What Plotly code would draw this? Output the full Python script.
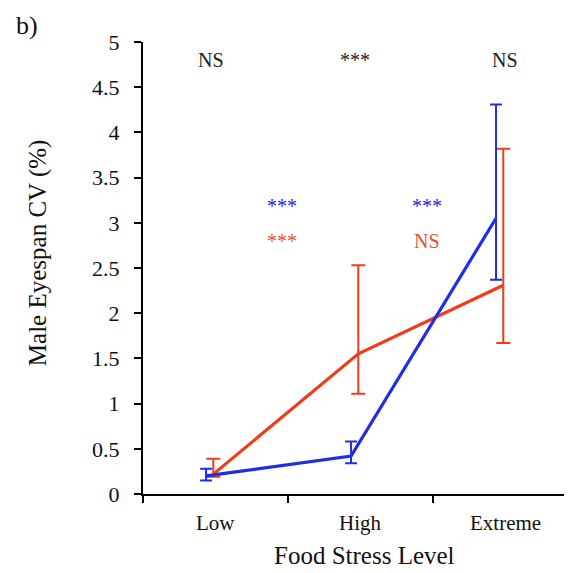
import plotly.graph_objects as go

categories = ["Low", "High", "Extreme"]
blue_vals = [0.20, 0.42, 3.05]
blue_err_plus = [0.08, 0.16, 1.26]
blue_err_minus = [0.05, 0.08, 0.68]
red_vals = [0.22, 1.55, 2.31]
red_err_plus = [0.17, 0.98, 1.51]
red_err_minus = [0.03, 0.44, 0.64]

top_labels = ["NS", "***", "NS"]
blue_labels = ["***", "***"]
red_labels = ["***", "NS"]

BLUE = "#1f2de6"
RED = "#f03c1c"
FONT = "Liberation Serif"

xpos = list(range(len(categories)))
blue_x = [x - 0.065 for x in xpos]
red_x = [x - 0.015 for x in xpos]

fig = go.Figure()
fig.add_trace(go.Scatter(
    x=red_x, y=red_vals, mode="lines",
    line=dict(color=RED, width=3.2),
    error_y=dict(type="data", symmetric=False, array=red_err_plus,
                 arrayminus=red_err_minus, color=RED, thickness=2, width=7),
    showlegend=False))
fig.add_trace(go.Scatter(
    x=blue_x, y=blue_vals, mode="lines",
    line=dict(color=BLUE, width=3.2),
    error_y=dict(type="data", symmetric=False, array=blue_err_plus,
                 arrayminus=blue_err_minus, color=BLUE, thickness=2, width=6),
    showlegend=False))

annotations = []
for i, c in enumerate(categories):
    annotations.append(dict(x=xpos[i], y=0, xref="x", yref="y", text=c,
                            showarrow=False, yanchor="middle", yshift=-29,
                            font=dict(family=FONT, size=21, color="#111")))
top_x = [-0.03, 0.96, 2.0]
for i, t in enumerate(top_labels):
    annotations.append(dict(x=top_x[i], y=4.8, xref="x", yref="y", text=t,
                            showarrow=False, font=dict(family=FONT, size=20, color="#222")))
mid_x = [0.46, 1.46]
for i, t in enumerate(blue_labels):
    annotations.append(dict(x=mid_x[i], y=3.19, xref="x", yref="y", text=t,
                            showarrow=False, font=dict(family=FONT, size=20, color="#2424e0")))
for i, t in enumerate(red_labels):
    annotations.append(dict(x=mid_x[i], y=2.80, xref="x", yref="y", text=t,
                            showarrow=False, font=dict(family=FONT, size=20, color="#e8512b")))
annotations.append(dict(x=-0.30, y=1.0376, xref="paper", yref="paper", text="b)",
                        xanchor="left", yanchor="middle", showarrow=False,
                        font=dict(family=FONT, size=26, color="#111")))
annotations.append(dict(x=0.517, y=-0.137, xref="paper", yref="paper",
                        text="Food Stress Level", showarrow=False,
                        xanchor="center", yanchor="middle",
                        font=dict(family=FONT, size=25, color="#111")))
annotations.append(dict(x=-0.2448, y=0.535, xref="paper", yref="paper",
                        text="Male Eyespan CV (%)", showarrow=False, textangle=-90,
                        xanchor="center", yanchor="middle",
                        font=dict(family=FONT, size=25, color="#111")))

fig.update_layout(
    width=564, height=565,
    margin=dict(l=135, r=0, t=34, b=79),
    paper_bgcolor="white", plot_bgcolor="white",
    font=dict(family=FONT, size=22, color="#111"),
    annotations=annotations,
    xaxis=dict(range=[-0.5, 2.459], tickvals=[-0.5, 0.5, 1.5, 2.5],
               ticktext=["", "", "", ""], ticks="outside", ticklen=7,
               tickwidth=2, tickcolor="black", showline=True, linecolor="black",
               linewidth=2, showgrid=False, zeroline=False),
    yaxis=dict(range=[0, 5], dtick=0.5, ticks="outside", ticklen=7, tickwidth=2,
               tickcolor="black", showline=True, linecolor="black", linewidth=2,
               showgrid=False, zeroline=False, ticklabelstandoff=10,
               tickfont=dict(family=FONT, size=22)),
)

fig.write_html("out.html")
